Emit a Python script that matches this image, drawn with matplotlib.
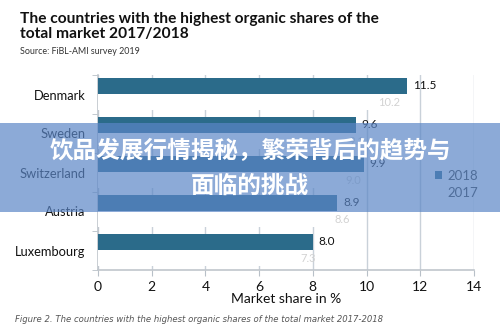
import numpy as np
import matplotlib
matplotlib.use('Agg')
import matplotlib.pyplot as plt
from matplotlib.patches import Rectangle

# data
countries = ['Denmark', 'Sweden', 'Switzerland', 'Austria', 'Luxembourg']
share_2018 = [11.5, 9.6, 9.9, 8.9, 8.0]
share_2017 = [10.2, 9.1, 9.0, 8.6, 7.3]
xticks = [0, 2, 4, 6, 8, 10, 12, 14]

bar_col = '#2b6b8a'
grid_col = '#c9d1d9'

plt.rcParams['font.family'] = ['Lato', 'DejaVu Sans']

fig = plt.figure(figsize=(5, 3.36), dpi=100)
W, H = 500, 336
ax = fig.add_axes([98 / W, 1 - 270 / H, 376 / W, 195 / H])

y = np.arange(len(countries))
h = 0.41
ax.barh(y - 0.23, share_2018, height=h, color=bar_col, label='2018', zorder=3)
ax.barh(y + 0.20, share_2017, height=h, color='white', label='2017', zorder=3)

# value labels
for yi, v18, v17 in zip(y, share_2018, share_2017):
    ax.text(v18 + 0.22, yi - 0.23, f'{v18:.1f}', va='center', ha='left',
            fontsize=8.5, color='#111111', zorder=4)
    ax.text(v17 + 0.22, yi + 0.20, f'{v17:.1f}', va='center', ha='left',
            fontsize=8, color='#d2d2d2', zorder=4)

ax.set_xlim(0, 14)
ax.set_ylim(len(countries) - 0.5, -0.5)
ax.set_xticks(xticks)
ax.set_xticklabels([str(t) for t in xticks], fontsize=10, color='#111111')
ax.tick_params(axis='x', length=4, color='#b8c0c8', pad=4)
ax.set_yticks(y)
ax.set_yticklabels(countries, fontsize=9.3, color='#111111')
ax.tick_params(axis='y', which='major', length=0, pad=9)
ax.set_yticks(np.arange(-0.5, len(countries)), minor=True)
ax.tick_params(axis='y', which='minor', length=4, color='#b8c0c8')
ax.xaxis.grid(True, color=grid_col, lw=1, zorder=0)
ax.set_axisbelow(True)
for s in ['top', 'right']:
    ax.spines[s].set_visible(False)
for s in ['left', 'bottom']:
    ax.spines[s].set_color('#c0c6cc')
    ax.spines[s].set_linewidth(1.2)
ax.set_xlabel('Market share in %', fontsize=10, color='#111111', labelpad=0)

leg = ax.legend(loc='center left', bbox_to_anchor=(0.895, 0.44), frameon=False,
                borderaxespad=0, borderpad=0,
                fontsize=9.5, handlelength=0.6, handleheight=0.6, handletextpad=0.4,
                labelspacing=0.4, labelcolor='#333333')

# title block
fig.text(20 / W, 1 - 12 / H, 'The countries with the highest organic shares of the\ntotal market 2017/2018',
         fontsize=11.2, fontweight='bold', color='#111111', va='top', ha='left', linespacing=1.05)
fig.text(20 / W, 1 - 52 / H, 'Source: FiBL-AMI survey 2019', fontsize=6.4, color='#333333',
         va='center', ha='left')
fig.text(15 / W, 1 - 319 / H,
         'Figure 2. The countries with the highest organic shares of the total market 2017-2018',
         fontsize=6.1, style='italic', color='#555555', va='center', ha='left',
         family=['DejaVu Sans'])

# overlay banner
fig.patches.append(Rectangle((0, 1 - 212 / H), 1, 89 / H, transform=fig.transFigure,
                             facecolor=(91 / 255, 134 / 255, 198 / 255), alpha=0.7,
                             edgecolor='none', zorder=5))
fig.text(0.5, 1 - 151 / H, '饮品发展行情揭秘，繁荣背后的趋势与', fontsize=17, fontweight='heavy',
         color='white', ha='center', va='center', zorder=6,
         family=['Noto Sans CJK SC', 'DejaVu Sans'])
fig.text(0.5, 1 - 186 / H, '面临的挑战', fontsize=17, fontweight='heavy',
         color='white', ha='center', va='center', zorder=6,
         family=['Noto Sans CJK SC', 'DejaVu Sans'])

fig.savefig('out.png', dpi=100)
